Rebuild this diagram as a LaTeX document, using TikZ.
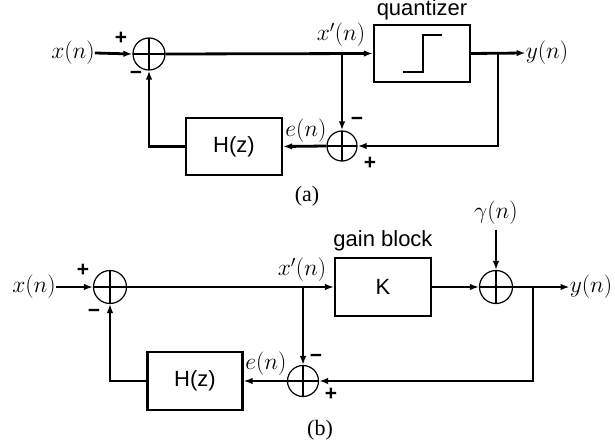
\RequirePackage{fix-cm}
\documentclass[tikz,border=0pt]{standalone}
\usepackage{fontspec}
\setsansfont{Liberation Sans}
\newfontfamily\capfont{Liberation Serif}
\usetikzlibrary{arrows.meta}
\begin{document}
\begin{tikzpicture}[x=1pt,y=-1pt,
  every node/.style={font=\fontsize{23.5}{28}\selectfont},
  sumnode/.style={circle,draw,line width=1.2pt,inner sep=0pt,
    path picture={\draw[line width=#1]
      (path picture bounding box.north) -- (path picture bounding box.south)
      (path picture bounding box.west) -- (path picture bounding box.east);}},
  sumnode/.default=2.5pt,
  blockbox/.style={draw,line width=2.2pt,minimum width=96pt,minimum height=57pt,inner sep=0pt,font=\sffamily\fontsize{22}{26}\selectfont},
  sflabel/.style={font=\sffamily\fontsize{22}{26}\selectfont,inner sep=0pt},
  signlabel/.style={font=\sffamily\bfseries\fontsize{21}{24}\selectfont,inner sep=0pt},
  mlabel/.style={inner sep=0pt},
  caplabel/.style={font=\capfont\fontsize{22}{26}\selectfont,inner sep=0pt},
  lineA/.style={line width=2.8pt},
  lineB/.style={line width=1.6pt},
  tip/.style={-{Latex[length=9pt,width=6.5pt]}},
]
\useasboundingbox (0,0) rectangle (615,446);

% ---------------- (a) ----------------
\node[mlabel] (xa) at (73,53) {$x(n)$};
\node[sumnode, minimum size=32pt] (s1a) at (149,54) {};
\node[blockbox] (qa) at (422,53.5) {};
\node[sflabel, anchor=base] (qlab) at (422,16) {quantizer};
\draw[line width=2.5pt] (403,72) -- (423,72) -- (423,35) -- (442,35);
\node[mlabel] (ya) at (547,53) {$y(n)$};
\node[sumnode, minimum size=30pt] (s2a) at (342,146) {};
\node[blockbox] (ha) at (234,146.5) {H(z)};
\coordinate (b1a) at (498,53);
\coordinate (b2a) at (342,53);
\node[mlabel] (xpa) at (341,35) {$x'(n)$};
\node[mlabel] (ea) at (306,131) {$e(n)$};
\node[signlabel] (pa1) at (121,38) {+};
\node[signlabel] (ma1) at (136,75) {−};
\node[signlabel] (ma2) at (357,121) {−};
\node[signlabel] (pa2) at (370,163) {+};
\node[caplabel] (capa) at (307,196) {(a)};

\draw[lineA,tip] (xa.east) -- (s1a.west);
\draw[lineA,tip] (s1a.east) -- (qa.west);
\draw[lineA,tip] (qa.east) -- (ya.west);
\draw[lineA,tip] (b1a) |- (s2a.east);
\draw[lineA,tip] (b2a) -- (s2a.north);
\draw[lineA,tip] (s2a.west) -- (ha.east);
\draw[lineA,tip] (ha.west) -| (s1a.south);

% ---------------- (b) ----------------
\node[mlabel] (xb) at (34,287) {$x(n)$};
\node[sumnode=1.6pt, minimum size=33pt] (s1b) at (110,287) {};
\node[blockbox, minimum height=58pt] (kb) at (383,287) {K};
\node[sflabel] (glab) at (383,241) {gain block};
\node[sumnode=1.6pt, minimum size=33pt] (s3b) at (496,287) {};
\node[mlabel] (gb) at (496,213) {$\gamma(n)$};
\coordinate (gtop) at (496,230);
\node[mlabel] (yb) at (591,287) {$y(n)$};
\coordinate (b1b) at (533,287);
\coordinate (b2b) at (303,287);
\node[sumnode=1.6pt, minimum size=31pt] (s4b) at (303,381) {};
\node[blockbox, minimum width=95pt, minimum height=58pt] (hb) at (195,381) {H(z)};
\node[mlabel] (xpb) at (302,270) {$x'(n)$};
\node[mlabel] (eb) at (266,364) {$e(n)$};
\node[signlabel] (pb1) at (83,270) {+};
\node[signlabel] (mb1) at (94,313) {−};
\node[signlabel] (mb2) at (316,358) {−};
\node[signlabel] (pb2) at (331,394) {+};
\node[caplabel] (capb) at (320,430) {(b)};

\draw[lineB,tip] (xb.east) -- (s1b.west);
\draw[lineB,tip] (s1b.east) -- (kb.west);
\draw[lineB,tip] (kb.east) -- (s3b.west);
\draw[lineB,tip] (gtop) -- (s3b.north);
\draw[lineB,tip] (s3b.east) -- (yb.west);
\draw[line width=2.5pt,tip] (b1b) |- (s4b.east);
\draw[lineB,tip] (b2b) -- (s4b.north);
\draw[lineB,tip] (s4b.west) -- (hb.east);
\draw[lineB,tip] (hb.west) -| (s1b.south);
\end{tikzpicture}
\end{document}
